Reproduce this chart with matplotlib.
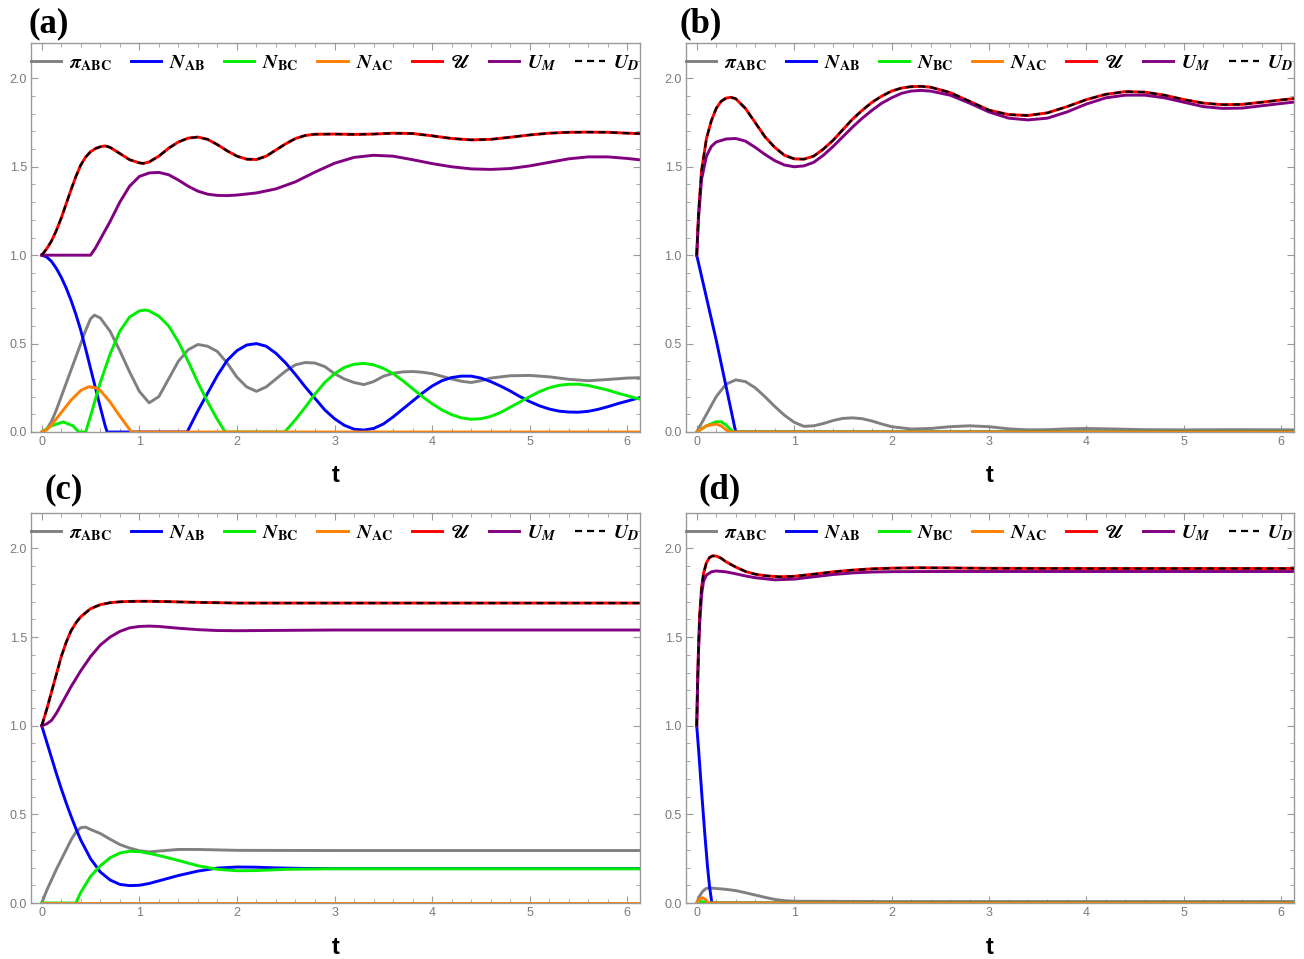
import matplotlib
matplotlib.use('Agg')
import matplotlib.pyplot as plt
from matplotlib.ticker import MultipleLocator, FormatStrFormatter

plt.rcParams['mathtext.fontset'] = 'stix'
plt.rcParams['font.family'] = ['Liberation Sans', 'DejaVu Sans']

# ---------------- panel (a) ----------------
a_t_u = [0, 0.05, 0.1, 0.15, 0.2, 0.25, 0.3, 0.35, 0.4, 0.45, 0.5, 0.55, 0.6, 0.65, 0.7, 0.8, 0.9,
         1.0, 1.04, 1.1, 1.2, 1.3, 1.4, 1.5, 1.6, 1.7, 1.8, 1.9, 2.0, 2.1, 2.2, 2.3, 2.4, 2.5, 2.6,
         2.7, 2.8, 3.0, 3.2, 3.4, 3.6, 3.8, 4.0, 4.2, 4.4, 4.6, 4.8, 5.0, 5.2, 5.4, 5.6, 5.8, 6.0,
         6.2]
a_u = [1.0, 1.035, 1.08, 1.14, 1.21, 1.29, 1.37, 1.445, 1.51, 1.555, 1.585, 1.603, 1.613, 1.618,
       1.61, 1.575, 1.54, 1.522, 1.519, 1.527, 1.56, 1.605, 1.64, 1.662, 1.668, 1.655, 1.625,
       1.59, 1.56, 1.543, 1.541, 1.56, 1.595, 1.63, 1.66, 1.677, 1.684, 1.685, 1.683, 1.685,
       1.69, 1.688, 1.675, 1.66, 1.652, 1.655, 1.667, 1.68, 1.69, 1.695, 1.696, 1.695, 1.69,
       1.686]
a_t_um = [0, 0.5, 0.55, 0.6, 0.7, 0.8, 0.9, 1.0, 1.1, 1.2, 1.3, 1.4, 1.5, 1.6, 1.7, 1.8, 1.9, 2.0,
          2.2, 2.4, 2.6, 2.8, 3.0, 3.2, 3.4, 3.6, 3.8, 4.0, 4.2, 4.4, 4.6, 4.8, 5.0, 5.2, 5.4, 5.6,
          5.8, 6.0, 6.2]
a_um = [1.0, 1.0, 1.04, 1.09, 1.19, 1.3, 1.39, 1.445, 1.465, 1.468, 1.455, 1.425, 1.39, 1.362,
        1.345, 1.338, 1.337, 1.34, 1.352, 1.375, 1.415, 1.47, 1.52, 1.553, 1.565, 1.56, 1.54,
        1.518, 1.5, 1.488, 1.485, 1.49, 1.505, 1.525, 1.545, 1.556, 1.556, 1.547, 1.535]
a_t_ab = [0, 0.05, 0.1, 0.15, 0.2, 0.25, 0.3, 0.35, 0.4, 0.45, 0.5, 0.55, 0.6, 0.65, 0.67, 1.49,
          1.6, 1.7, 1.8, 1.9, 2.0, 2.1, 2.2, 2.3, 2.4, 2.5, 2.6, 2.7, 2.8, 2.9, 3.0, 3.1, 3.2, 3.3,
          3.4, 3.5, 3.6, 3.7, 3.8, 3.9, 4.0, 4.1, 4.2, 4.3, 4.4, 4.5, 4.6, 4.7, 4.8, 4.9, 5.0, 5.1,
          5.2, 5.3, 5.4, 5.5, 5.6, 5.7, 5.8, 5.9, 6.0, 6.1, 6.2]
a_ab = [1.0, 0.99, 0.965, 0.925, 0.875, 0.815, 0.745, 0.665, 0.575, 0.47, 0.36, 0.25, 0.14,
        0.035, 0.0, 0.0, 0.12, 0.22, 0.32, 0.405, 0.46, 0.492, 0.5, 0.485, 0.445, 0.39, 0.325,
        0.255, 0.19, 0.125, 0.075, 0.038, 0.016, 0.011, 0.02, 0.045, 0.085, 0.13, 0.175, 0.22,
        0.26, 0.29, 0.308, 0.316, 0.316, 0.305, 0.285, 0.26, 0.232, 0.2, 0.172, 0.148, 0.13,
        0.118, 0.113, 0.112, 0.117, 0.128, 0.143, 0.16, 0.175, 0.19, 0.205]
a_t_bc = [0, 0.1, 0.22, 0.32, 0.38, 0.45, 0.5, 0.6, 0.7, 0.8, 0.9, 1.0, 1.06, 1.1, 1.2, 1.3, 1.4,
          1.5, 1.6, 1.7, 1.8, 1.88, 2.49, 2.6, 2.7, 2.8, 2.9, 3.0, 3.1, 3.2, 3.3, 3.4, 3.5, 3.6,
          3.7, 3.8, 3.9, 4.0, 4.1, 4.2, 4.3, 4.4, 4.5, 4.6, 4.7, 4.8, 4.9, 5.0, 5.1, 5.2, 5.3, 5.4,
          5.5, 5.6, 5.7, 5.8, 5.9, 6.0, 6.1, 6.2]
a_bc = [0, 0.035, 0.057, 0.035, 0, 0, 0.09, 0.28, 0.44, 0.57, 0.65, 0.685, 0.69, 0.685, 0.655,
        0.6, 0.51, 0.4, 0.28, 0.17, 0.07, 0, 0, 0.07, 0.14, 0.215, 0.28, 0.33, 0.365, 0.383,
        0.388, 0.38, 0.36, 0.33, 0.29, 0.245, 0.2, 0.16, 0.125, 0.098, 0.08, 0.072, 0.075, 0.088,
        0.11, 0.14, 0.17, 0.2, 0.228, 0.25, 0.264, 0.27, 0.27, 0.263, 0.25, 0.237, 0.22, 0.205,
        0.19, 0.175]
a_t_ac = [0, 0.05, 0.1, 0.2, 0.3, 0.4, 0.48, 0.55, 0.6, 0.7, 0.8, 0.92, 6.2]
a_ac = [0, 0.012, 0.04, 0.11, 0.18, 0.235, 0.256, 0.25, 0.235, 0.17, 0.09, 0, 0]
a_t_pi = [0, 0.05, 0.1, 0.15, 0.2, 0.25, 0.3, 0.35, 0.4, 0.45, 0.5, 0.54, 0.6, 0.7, 0.8, 0.9, 1.0,
          1.1, 1.2, 1.3, 1.4, 1.5, 1.6, 1.7, 1.8, 1.9, 2.0, 2.1, 2.2, 2.3, 2.4, 2.5, 2.6, 2.7, 2.8,
          2.9, 3.0, 3.1, 3.2, 3.3, 3.4, 3.5, 3.6, 3.7, 3.8, 3.9, 4.0, 4.1, 4.2, 4.3, 4.4, 4.5, 4.6,
          4.8, 5.0, 5.2, 5.4, 5.6, 5.8, 6.0, 6.2]
a_pi = [0, 0.015, 0.06, 0.125, 0.2, 0.275, 0.35, 0.425, 0.5, 0.575, 0.64, 0.661, 0.645, 0.57,
        0.46, 0.34, 0.23, 0.165, 0.2, 0.3, 0.4, 0.465, 0.495, 0.485, 0.455, 0.39, 0.31, 0.255,
        0.23, 0.255, 0.3, 0.345, 0.38, 0.393, 0.39, 0.37, 0.33, 0.3, 0.28, 0.268, 0.285, 0.315,
        0.332, 0.34, 0.342, 0.338, 0.33, 0.315, 0.3, 0.287, 0.28, 0.29, 0.305, 0.318, 0.32,
        0.312, 0.298, 0.29, 0.297, 0.305, 0.308]

# ---------------- panel (b) ----------------
b_t_u = [0, 0.02, 0.05, 0.1, 0.15, 0.2, 0.25, 0.3, 0.35, 0.4, 0.5, 0.6, 0.7, 0.8, 0.9, 1.0, 1.1,
         1.2, 1.3, 1.4, 1.5, 1.6, 1.7, 1.8, 1.9, 2.0, 2.1, 2.2, 2.3, 2.4, 2.6, 2.8, 3.0, 3.2, 3.4,
         3.6, 3.8, 4.0, 4.2, 4.4, 4.6, 4.8, 5.0, 5.2, 5.4, 5.6, 5.8, 6.0, 6.2]
b_u = [1.0, 1.25, 1.48, 1.66, 1.76, 1.83, 1.87, 1.888, 1.893, 1.885, 1.83, 1.75, 1.67, 1.61,
       1.565, 1.545, 1.543, 1.56, 1.6, 1.65, 1.71, 1.77, 1.82, 1.865, 1.9, 1.928, 1.945, 1.953,
       1.955, 1.95, 1.92, 1.87, 1.82, 1.795, 1.79, 1.805, 1.84, 1.88, 1.91, 1.925, 1.922, 1.905,
       1.88, 1.86, 1.851, 1.853, 1.865, 1.878, 1.89]
b_t_um = [0, 0.02, 0.05, 0.1, 0.15, 0.2, 0.3, 0.4, 0.5, 0.6, 0.7, 0.8, 0.9, 1.0, 1.1, 1.2, 1.3,
          1.4, 1.5, 1.6, 1.7, 1.8, 1.9, 2.0, 2.1, 2.2, 2.3, 2.4, 2.6, 2.8, 3.0, 3.2, 3.4, 3.6, 3.8,
          4.0, 4.2, 4.4, 4.6, 4.8, 5.0, 5.2, 5.4, 5.6, 5.8, 6.0, 6.2]
b_um = [1.0, 1.22, 1.43, 1.56, 1.615, 1.64, 1.657, 1.66, 1.645, 1.61, 1.57, 1.535, 1.51, 1.5,
        1.505, 1.525, 1.565, 1.615, 1.67, 1.725, 1.775, 1.82, 1.86, 1.89, 1.915, 1.928, 1.932,
        1.928, 1.905, 1.86, 1.81, 1.775, 1.765, 1.775, 1.81, 1.855, 1.89, 1.905, 1.905, 1.89,
        1.865, 1.84, 1.83, 1.832, 1.845, 1.858, 1.87]
b_t_ab = [0, 0.05, 0.1, 0.2, 0.3, 0.4, 6.2]
b_ab = [1.0, 0.88, 0.76, 0.52, 0.26, 0.0, 0.0]
b_t_bc = [0, 0.1, 0.2, 0.25, 0.3, 0.37, 6.2]
b_bc = [0, 0.035, 0.058, 0.058, 0.04, 0, 0]
b_t_ac = [0, 0.1, 0.2, 0.25, 0.33, 6.2]
b_ac = [0, 0.035, 0.045, 0.035, 0, 0]
b_t_pi = [0, 0.1, 0.2, 0.3, 0.4, 0.5, 0.6, 0.7, 0.8, 0.9, 1.0, 1.1, 1.2, 1.3, 1.4, 1.5, 1.6, 1.7,
          1.8, 1.9, 2.0, 2.2, 2.4, 2.6, 2.8, 3.0, 3.2, 3.4, 3.6, 3.8, 4.0, 4.3, 4.6, 5.0, 5.5, 6.2]
b_pi = [0, 0.1, 0.2, 0.27, 0.295, 0.285, 0.25, 0.2, 0.145, 0.095, 0.055, 0.032, 0.035, 0.048,
        0.065, 0.077, 0.08, 0.075, 0.062, 0.045, 0.03, 0.017, 0.02, 0.03, 0.035, 0.03, 0.018,
        0.012, 0.013, 0.018, 0.02, 0.017, 0.013, 0.012, 0.013, 0.012]

# ---------------- panel (c) ----------------
c_t_u = [0, 0.05, 0.1, 0.15, 0.2, 0.25, 0.3, 0.35, 0.4, 0.5, 0.6, 0.7, 0.8, 0.9, 1.0, 1.1, 1.3,
         1.5, 1.8, 2.0, 2.5, 3.0, 4.0, 5.0, 6.2]
c_u = [1.0, 1.09, 1.19, 1.29, 1.39, 1.47, 1.535, 1.58, 1.615, 1.66, 1.683, 1.694, 1.699, 1.701,
       1.702, 1.702, 1.7, 1.697, 1.694, 1.692, 1.692, 1.692, 1.692, 1.692, 1.692]
c_t_um = [0, 0.05, 0.1, 0.15, 0.2, 0.3, 0.4, 0.5, 0.6, 0.7, 0.8, 0.9, 1.0, 1.1, 1.2, 1.4, 1.6,
          1.8, 2.0, 2.5, 3.0, 4.0, 5.0, 6.2]
c_um = [1.0, 1.01, 1.03, 1.07, 1.12, 1.22, 1.31, 1.39, 1.455, 1.5, 1.532, 1.552, 1.56, 1.562,
        1.56, 1.55, 1.542, 1.537, 1.536, 1.538, 1.54, 1.54, 1.54, 1.54]
c_t_ab = [0, 0.05, 0.1, 0.15, 0.2, 0.25, 0.3, 0.35, 0.4, 0.5, 0.6, 0.7, 0.8, 0.9, 1.0, 1.1, 1.2,
          1.4, 1.6, 1.8, 2.0, 2.2, 2.4, 2.7, 3.0, 4.0, 5.0, 6.2]
c_ab = [1.0, 0.91, 0.82, 0.73, 0.645, 0.565, 0.49, 0.42, 0.355, 0.25, 0.175, 0.13, 0.105, 0.098,
        0.1, 0.11, 0.125, 0.155, 0.18, 0.197, 0.203, 0.202, 0.198, 0.195, 0.194, 0.194, 0.194,
        0.194]
c_t_bc = [0, 0.35, 0.4, 0.5, 0.6, 0.7, 0.8, 0.9, 1.0, 1.1, 1.2, 1.4, 1.6, 1.8, 2.0, 2.2, 2.5, 3.0,
          4.0, 5.0, 6.2]
c_bc = [0, 0, 0.06, 0.15, 0.21, 0.255, 0.282, 0.292, 0.29, 0.28, 0.268, 0.24, 0.21, 0.19, 0.182,
        0.183, 0.19, 0.193, 0.193, 0.193, 0.193]
c_t_ac = [0, 6.2]
c_ac = [0, 0]
c_t_pi = [0, 0.05, 0.1, 0.15, 0.2, 0.25, 0.3, 0.35, 0.4, 0.45, 0.5, 0.6, 0.7, 0.8, 0.9, 1.0, 1.1,
          1.2, 1.4, 1.6, 2.0, 3.0, 4.0, 5.0, 6.2]
c_pi = [0, 0.07, 0.13, 0.19, 0.245, 0.3, 0.355, 0.4, 0.425, 0.428, 0.415, 0.392, 0.36, 0.33,
        0.31, 0.295, 0.288, 0.293, 0.302, 0.302, 0.297, 0.296, 0.296, 0.296, 0.296]

# ---------------- panel (d) ----------------
d_t_u = [0, 0.01, 0.02, 0.03, 0.05, 0.07, 0.1, 0.13, 0.16, 0.2, 0.25, 0.3, 0.4, 0.5, 0.6, 0.7,
         0.85, 1.0, 1.2, 1.4, 1.6, 1.8, 2.0, 2.3, 2.6, 3.0, 4.0, 5.0, 6.2]
d_u = [1.0, 1.27, 1.47, 1.62, 1.78, 1.86, 1.92, 1.948, 1.958, 1.957, 1.945, 1.925, 1.895, 1.87,
       1.855, 1.846, 1.84, 1.843, 1.855, 1.868, 1.878, 1.885, 1.889, 1.891, 1.89, 1.888, 1.887,
       1.887, 1.887]
d_t_um = [0, 0.01, 0.02, 0.03, 0.05, 0.07, 0.1, 0.15, 0.2, 0.3, 0.4, 0.5, 0.6, 0.8, 1.0, 1.2,
          1.4, 1.6, 1.8, 2.0, 2.5, 3.0, 4.0, 5.0, 6.2]
d_um = [1.0, 1.25, 1.44, 1.57, 1.74, 1.815, 1.85, 1.868, 1.873, 1.868, 1.857, 1.845, 1.835,
        1.823, 1.827, 1.84, 1.853, 1.862, 1.867, 1.869, 1.87, 1.87, 1.87, 1.87, 1.87]
d_t_ab = [0, 0.02, 0.05, 0.08, 0.11, 0.13, 0.155, 6.2]
d_ab = [1.0, 0.86, 0.63, 0.41, 0.21, 0.1, 0.0, 0.0]
d_t_bc = [0, 0.04, 0.08, 0.1, 6.2]
d_bc = [0, 0.008, 0.006, 0, 0]
d_t_ac = [0, 0.03, 0.06, 0.09, 0.12, 6.2]
d_ac = [0, 0.022, 0.03, 0.02, 0, 0]
d_t_pi = [0, 0.03, 0.06, 0.09, 0.12, 0.2, 0.3, 0.4, 0.5, 0.6, 0.7, 0.8, 0.9, 1.0, 1.5, 2.0, 3.0,
          6.2]
d_pi = [0, 0.04, 0.065, 0.08, 0.085, 0.082, 0.077, 0.07, 0.058, 0.045, 0.032, 0.02, 0.013, 0.01,
        0.009, 0.008, 0.008, 0.008]

labels = [r'$\boldsymbol{\pi}_{\mathbf{ABC}}$', r'$\boldsymbol{N}_{\mathbf{AB}}$',
          r'$\boldsymbol{N}_{\mathbf{BC}}$', r'$\boldsymbol{N}_{\mathbf{AC}}$',
          '$\U0001D4E4$', r'$\boldsymbol{U}_{\boldsymbol{M}}$', r'$\boldsymbol{U}_{\boldsymbol{D}}$']

panels = [
    ('(a)', (a_t_pi, a_pi), (a_t_ab, a_ab), (a_t_bc, a_bc), (a_t_ac, a_ac), (a_t_u, a_u), (a_t_um, a_um)),
    ('(b)', (b_t_pi, b_pi), (b_t_ab, b_ab), (b_t_bc, b_bc), (b_t_ac, b_ac), (b_t_u, b_u), (b_t_um, b_um)),
    ('(c)', (c_t_pi, c_pi), (c_t_ab, c_ab), (c_t_bc, c_bc), (c_t_ac, c_ac), (c_t_u, c_u), (c_t_um, c_um)),
    ('(d)', (d_t_pi, d_pi), (d_t_ab, d_ab), (d_t_bc, d_bc), (d_t_ac, d_ac), (d_t_u, d_u), (d_t_um, d_um)),
]

W, H = 1304, 959
fig = plt.figure(figsize=(W / 100, H / 100), dpi=100)

# axes frames in pixels: left, top, right, bottom ; panel-label position (x, y)
boxes = [(31, 43, 640, 432), (686, 43, 1294, 432), (31, 513, 640, 903), (686, 513, 1294, 903)]
tag_pos = [(28, 24), (679, 24), (45, 490), (699, 490)]
frame_col = '#9a9a9a'
lw = 2.1

for (name, pi, ab, bc, ac, u, um), (l, t, r, b), (tx, ty) in zip(panels, boxes, tag_pos):
    ax = fig.add_axes([l / W, 1 - b / H, (r - l) / W, (b - t) / H])
    ax.plot(*pi, color='#808080', lw=lw, label=labels[0])
    ax.plot(*ab, color='#0000ff', lw=lw, label=labels[1])
    ax.plot(*bc, color='#00ee00', lw=lw, label=labels[2])
    ax.plot(*ac, color='#ff8000', lw=lw, label=labels[3])
    ax.plot(*u, color='#ff0000', lw=lw, label=labels[4])
    ax.plot(*um, color='#800080', lw=lw, label=labels[5])
    ax.plot(*u, color='black', lw=1.6, ls=(0, (3.2, 2.2)), label=labels[6])

    ax.set_xlim(-0.11, 6.13)
    ax.set_ylim(0, 2.2)
    ax.xaxis.set_major_locator(MultipleLocator(1))
    ax.xaxis.set_minor_locator(MultipleLocator(0.2))
    ax.yaxis.set_major_locator(MultipleLocator(0.5))
    ax.yaxis.set_minor_locator(MultipleLocator(0.1))
    ax.xaxis.set_major_formatter(FormatStrFormatter('%d'))
    ax.yaxis.set_major_formatter(FormatStrFormatter('%.1f'))
    ax.tick_params(which='both', direction='in', top=True, right=True, color=frame_col,
                   labelcolor='#7a7a7a', labelsize=9, pad=3)
    ax.tick_params(which='major', length=5, width=0.8)
    ax.tick_params(which='minor', length=2.8, width=0.6)
    for sp in ax.spines.values():
        sp.set_color(frame_col)
        sp.set_linewidth(1.0)

    ax.set_xlabel('t', fontsize=17, fontweight='bold')
    ax.xaxis.set_label_coords(0.5, -0.113)
    ax.xaxis.label.set_va('center')

    ax.legend(loc='center', bbox_to_anchor=(0.0, 0.924, 1.0, 0.05), mode='expand', ncol=7,
              frameon=False, fontsize=14.5, handlelength=1.5, handletextpad=0.4,
              borderaxespad=0, borderpad=0, columnspacing=0.5)

    fig.text(tx / W, 1 - ty / H, name, fontsize=25, fontweight='bold',
             family='Liberation Serif', ha='left', va='center')

fig.savefig('out.png', dpi=100)
